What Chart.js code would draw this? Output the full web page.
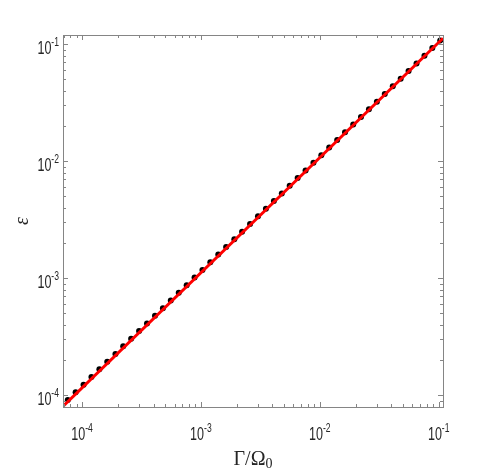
<!DOCTYPE html>
<html>
<head>
<meta charset="utf-8">
<script src="https://cdn.jsdelivr.net/npm/chart.js@4"></script>
<style>
  body { margin: 0; background: #fff; }
  #wrap { width: 491px; height: 474px; }
</style>
</head>
<body>
<div id="wrap"><canvas id="epsChart" width="491" height="474"></canvas></div>
<script>
// simulated points (black dots)
const gammaVals = [7.59e-5, 8.84e-5, 1.03e-4, 1.20e-4, 1.40e-4, 1.63e-4, 1.91e-4, 2.22e-4, 2.59e-4, 3.02e-4,
    3.52e-4, 4.11e-4, 4.79e-4, 5.58e-4, 6.51e-4, 7.59e-4, 8.84e-4, 1.03e-3, 1.20e-3, 1.40e-3,
    1.63e-3, 1.91e-3, 2.22e-3, 2.59e-3, 3.02e-3, 3.52e-3, 4.11e-3, 4.79e-3, 5.58e-3, 6.51e-3,
    7.59e-3, 8.84e-3, 1.03e-2, 1.20e-2, 1.40e-2, 1.63e-2, 1.91e-2, 2.22e-2, 2.59e-2, 3.02e-2,
    3.52e-2, 4.11e-2, 4.79e-2, 5.58e-2, 6.51e-2, 7.59e-2, 8.84e-2, 0.103];
const epsVals = [9.13e-5, 1.061e-4, 1.233e-4, 1.434e-4, 1.667e-4, 1.937e-4, 2.252e-4, 2.618e-4, 3.043e-4, 3.537e-4,
    4.113e-4, 4.780e-4, 5.556e-4, 6.459e-4, 7.508e-4, 8.728e-4, 1.015e-3, 1.179e-3, 1.371e-3, 1.594e-3,
    1.852e-3, 2.153e-3, 2.503e-3, 2.910e-3, 3.382e-3, 3.932e-3, 4.570e-3, 5.312e-3, 6.175e-3, 7.178e-3,
    8.343e-3, 9.700e-3, 1.127e-2, 1.311e-2, 1.523e-2, 1.771e-2, 2.058e-2, 2.393e-2, 2.782e-2, 3.234e-2,
    3.759e-2, 4.369e-2, 5.079e-2, 5.904e-2, 6.863e-2, 7.978e-2, 9.275e-2, 0.1078];

// red fit line
const fitGamma = [6.92e-5, 0.1087];
const fitEps = [8.05e-5, 0.1125];

// axes
const xRange = [6.92e-5, 0.1087];
const yRange = [7.94e-5, 0.120];
const xDecades = [-4, -3, -2, -1];
const yDecades = [-4, -3, -2, -1];

const axisColor = '#858585';
const textColor = '#262626';
const squeeze = 0.66; // tick labels look horizontally condensed

function drawPow(ctx, exp, x, y, align) {
    ctx.font = '19px "Liberation Sans"';
    const w1 = ctx.measureText('10').width * squeeze;
    ctx.font = '13px "Liberation Sans"';
    const expText = String(exp);
    const w2 = ctx.measureText(expText).width * squeeze;
    const total = w1 + w2;
    let start = align === 'right' ? x - total : x - total / 2;

    ctx.save();
    ctx.fillStyle = textColor;
    ctx.textAlign = 'left';
    ctx.textBaseline = 'alphabetic';
    ctx.translate(start, y);
    ctx.scale(squeeze, 1);
    ctx.font = '19px "Liberation Sans"';
    ctx.fillText('10', 0, 0);
    ctx.font = '13px "Liberation Sans"';
    ctx.fillText(expText, w1 / squeeze, -8);
    ctx.restore();
}

const axesPlugin = {
    id: 'matlabAxes',
    afterDraw(chart) {
        const {ctx, chartArea: a, scales} = chart;
        const xs = scales.x, ys = scales.y;
        ctx.save();

        // minor + major ticks, inside the box on all sides
        ctx.strokeStyle = axisColor;
        ctx.lineWidth = 1;
        ctx.beginPath();
        for (let e = -5; e <= 0; e++) {
            for (let m = 1; m <= 9; m++) {
                const v = m * Math.pow(10, e);
                const len = m === 1 ? 5 : 3;
                if (v >= xRange[0] && v <= xRange[1]) {
                    const px = Math.round(xs.getPixelForValue(v)) + 0.5;
                    ctx.moveTo(px, a.bottom); ctx.lineTo(px, a.bottom - len);
                    ctx.moveTo(px, a.top); ctx.lineTo(px, a.top + len);
                }
                if (v >= yRange[0] && v <= yRange[1]) {
                    const py = Math.round(ys.getPixelForValue(v)) + 0.5;
                    ctx.moveTo(a.left, py); ctx.lineTo(a.left + len, py);
                    ctx.moveTo(a.right, py); ctx.lineTo(a.right - len, py);
                }
            }
        }
        ctx.stroke();

        // box
        ctx.strokeRect(Math.round(a.left) + 0.5, Math.round(a.top) + 0.5,
            Math.round(a.right - a.left), Math.round(a.bottom - a.top));

        // tick labels
        xDecades.forEach(e => {
            const px = xs.getPixelForValue(Math.pow(10, e));
            drawPow(ctx, e, px, a.bottom + 33, 'center');
        });
        yDecades.forEach(e => {
            const py = ys.getPixelForValue(Math.pow(10, e));
            drawPow(ctx, e, a.left - 4, py + 10, 'right');
        });

        // x title: Γ/Ω0
        ctx.fillStyle = textColor;
        ctx.textBaseline = 'alphabetic';
        ctx.textAlign = 'left';
        ctx.font = '20px "Liberation Serif"';
        const main = 'Γ/Ω';
        const wMain = ctx.measureText(main).width;
        ctx.font = '14px "Liberation Serif"';
        const wSub = ctx.measureText('0').width;
        const cx = (a.left + a.right) / 2;
        const x0 = cx - (wMain + wSub) / 2;
        ctx.font = '20px "Liberation Serif"';
        ctx.fillText(main, x0, 465);
        ctx.font = '14px "Liberation Serif"';
        ctx.fillText('0', x0 + wMain, 468);

        // y title: ε
        ctx.translate(23, 221);
        ctx.rotate(-Math.PI / 2);
        ctx.textAlign = 'center';
        ctx.textBaseline = 'middle';
        ctx.font = 'italic 20px "Liberation Serif"';
        ctx.fillText('ε', 0, 0);

        ctx.restore();
    }
};

const ctx = document.getElementById('epsChart').getContext('2d');
new Chart(ctx, {
    type: 'scatter',
    data: {
        datasets: [{
            type: 'line',
            label: 'fit',
            data: fitGamma.map((g, i) => ({x: g, y: fitEps[i]})),
            borderColor: '#ff0000',
            borderWidth: 3,
            pointRadius: 0,
            showLine: true,
            fill: false,
            order: 0
        }, {
            label: 'simulation',
            data: gammaVals.map((g, i) => ({x: g, y: epsVals[i]})),
            backgroundColor: '#000000',
            borderColor: '#000000',
            pointRadius: 3,
            borderWidth: 0,
            order: 1
        }]
    },
    options: {
        responsive: false,
        animation: false,
        devicePixelRatio: 1,
        layout: { padding: { left: 0, right: 48, top: 35, bottom: 0 } },
        plugins: {
            legend: { display: false },
            tooltip: { enabled: false }
        },
        scales: {
            x: {
                type: 'logarithmic',
                min: xRange[0],
                max: xRange[1],
                grid: { display: false },
                border: { display: false },
                ticks: { display: false },
                afterFit: (scale) => { scale.height = 67; }
            },
            y: {
                type: 'logarithmic',
                min: yRange[0],
                max: yRange[1],
                grid: { display: false },
                border: { display: false },
                ticks: { display: false },
                afterFit: (scale) => { scale.width = 63; }
            }
        }
    },
    plugins: [axesPlugin]
});
</script>
</body>
</html>
